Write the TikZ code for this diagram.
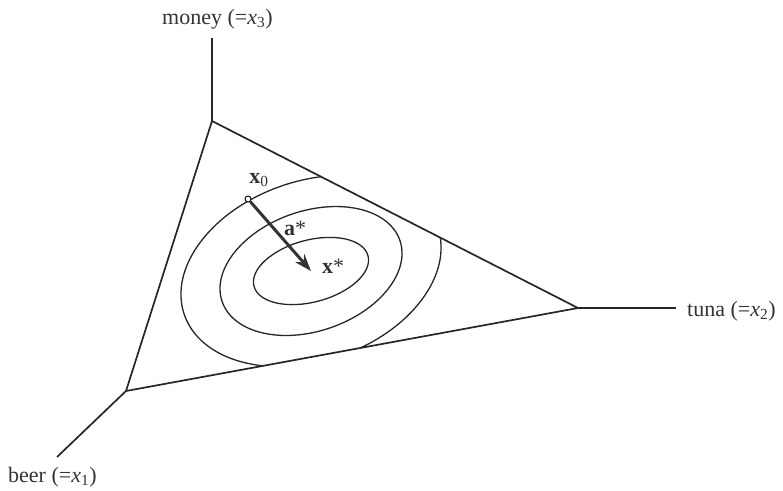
\documentclass[tikz,border=0pt]{standalone}
\usepackage{amsmath}
\usepackage{fontspec}
\setmainfont{Liberation Serif}
\usepackage{tikz}
\usetikzlibrary{arrows.meta}

\begin{document}
\begin{tikzpicture}[x=1pt, y=-1pt,
    edge/.style={line width=1.7pt, black!85},
    contour/.style={line width=1.3pt, black!85},
    lbl/.style={font=\fontsize{22}{26}\selectfont, inner sep=0pt, text=black!80}]
    \useasboundingbox (0,0) rectangle (783,490);

    % simplex corners and axis ends
    \coordinate (top) at (212,121);
    \coordinate (right) at (578,308);
    \coordinate (left) at (126,391);
    \coordinate (moneyend) at (212,38);
    \coordinate (tunaend) at (676,308);
    \coordinate (beerend) at (57,457);

    \draw[edge] (top) -- (moneyend);
    \draw[edge] (right) -- (tunaend);
    \draw[edge] (left) -- (beerend);
    \draw[edge, line join=miter] (top) -- (right) -- (left) -- cycle;

    \node[lbl, anchor=base west] (money) at (162,24) {money (=\textit{x}\textsubscript{3})};
    \node[lbl, anchor=base west] (tuna) at (687,316) {tuna (=\textit{x}\textsubscript{2})};
    \node[lbl, anchor=base west] (beer) at (8,482) {beer (=\textit{x}\textsubscript{1})};

    % level sets
    \coordinate (xstar) at (311,271);
    \begin{scope}
        \clip (top) -- (right) -- (left) -- cycle;
        \draw[contour, rotate around={19:(xstar)}] (xstar) ellipse [x radius=134, y radius=90];
        \draw[contour, rotate around={19:(xstar)}] (xstar) ellipse [x radius=94, y radius=60];
        \draw[contour, rotate around={15:(xstar)}] (xstar) ellipse [x radius=59, y radius=31];
    \end{scope}

    \node[circle, draw, line width=0.9pt, fill=white, inner sep=0pt, minimum size=6pt] (x0) at (248,199) {};
    \draw[line width=3pt, black!80, -{Stealth[length=17pt, width=12pt]}] (x0) -- (xstar);

    \node[lbl] (x0lbl) at (259,180) {\textbf{x}\textsubscript{0}};
    \node[lbl] (alabel) at (295,228) {\textbf{a}*};
    \node[lbl] (xslabel) at (333,266) {\textbf{x}*};
\end{tikzpicture}
\end{document}
